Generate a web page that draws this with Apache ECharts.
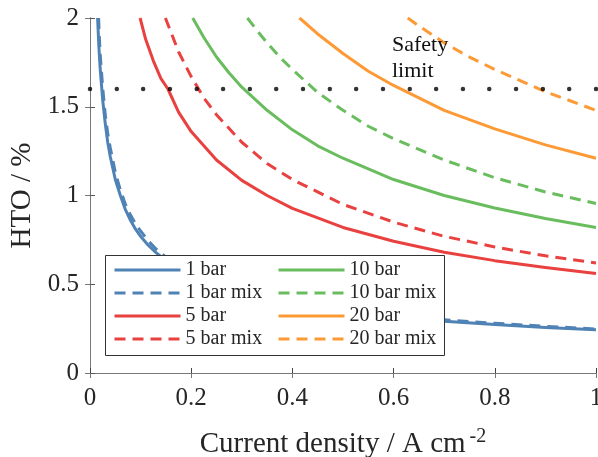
<!DOCTYPE html>
<html lang="en">
<head>
  <meta charset="UTF-8">
  <title>HTO vs current density</title>
</head>
<body style="margin:0">
  <div id="main" style="width: 598px;height:457px;"></div>
  <script src="https://cdn.jsdelivr.net/npm/echarts@6/dist/echarts.min.js"></script>
  <script type="text/javascript">
    // values
    const bar1X = [0.015, 0.0175, 0.02, 0.025, 0.03, 0.035, 0.04, 0.05, 0.06, 0.07, 0.08, 0.09, 0.10, 0.115, 0.13, 0.16, 0.20, 0.25, 0.30, 0.40, 0.50, 0.60, 0.70, 0.80, 0.90, 1.00];
    const bar1Y = [2.00, 1.84, 1.72, 1.54, 1.41, 1.30, 1.22, 1.09, 1.00, 0.92, 0.86, 0.81, 0.77, 0.72, 0.68, 0.61, 0.545, 0.488, 0.445, 0.386, 0.345, 0.315, 0.292, 0.273, 0.257, 0.244];
    const bar1MixX = [0.017, 0.0185, 0.02, 0.025, 0.03, 0.035, 0.04, 0.05, 0.06, 0.07, 0.08, 0.09, 0.10, 0.115, 0.13, 0.16, 0.20, 0.25, 0.30, 0.40, 0.50, 0.60, 0.70, 0.80, 0.90, 1.00];
    const bar1MixY = [2.00, 1.89, 1.80, 1.61, 1.46, 1.35, 1.27, 1.13, 1.03, 0.95, 0.89, 0.84, 0.80, 0.745, 0.70, 0.63, 0.565, 0.505, 0.46, 0.398, 0.356, 0.325, 0.300, 0.280, 0.263, 0.248];

    const bar5X = [0.099, 0.11, 0.125, 0.14, 0.154, 0.175, 0.2, 0.225, 0.25, 0.3, 0.35, 0.4, 0.5, 0.6, 0.7, 0.8, 0.9, 1.0];
    const bar5Y = [2.0, 1.88, 1.76, 1.66, 1.6, 1.47, 1.36, 1.28, 1.2, 1.085, 1.0, 0.927, 0.82, 0.742, 0.68, 0.633, 0.594, 0.56];
    const bar5MixX = [0.149, 0.16, 0.175, 0.2, 0.225, 0.25, 0.3, 0.35, 0.4, 0.5, 0.6, 0.7, 0.8, 0.9, 1.0];
    const bar5MixY = [2.0, 1.92, 1.81, 1.67, 1.55, 1.455, 1.30, 1.18, 1.09, 0.95, 0.85, 0.77, 0.71, 0.66, 0.62];

    const bar10X = [0.203, 0.225, 0.25, 0.275, 0.3, 0.35, 0.4, 0.45, 0.5, 0.6, 0.7, 0.8, 0.9, 1.0];
    const bar10Y = [2.0, 1.89, 1.78, 1.69, 1.61, 1.48, 1.37, 1.28, 1.21, 1.09, 1.0, 0.93, 0.87, 0.82];
    const bar10MixX = [0.311, 0.33, 0.35, 0.375, 0.4, 0.45, 0.5, 0.55, 0.6, 0.7, 0.8, 0.9, 1.0];
    const bar10MixY = [2.0, 1.93, 1.86, 1.78, 1.71, 1.58, 1.48, 1.39, 1.32, 1.20, 1.10, 1.02, 0.955];

    const bar20X = [0.414, 0.45, 0.5, 0.55, 0.6, 0.7, 0.8, 0.9, 1.0];
    const bar20Y = [2.0, 1.91, 1.80, 1.70, 1.62, 1.48, 1.375, 1.285, 1.21];
    const bar20MixX = [0.628, 0.65, 0.7, 0.75, 0.8, 0.9, 1.0];
    const bar20MixY = [2.0, 1.955, 1.86, 1.78, 1.71, 1.585, 1.48];

    const safetyLimit = 1.6;
    const safetyX = [0, 0.053, 0.105, 0.158, 0.211, 0.263, 0.316, 0.368, 0.421, 0.474,
      0.526, 0.579, 0.632, 0.684, 0.737, 0.789, 0.842, 0.895, 0.947, 1.0];

    const names = ['1 bar', '1 bar mix', '5 bar', '5 bar mix', '10 bar', '10 bar mix', '20 bar', '20 bar mix'];

    const FONT = 'Liberation Serif';
    const TXT = '#262626';
    const dash = [11, 7];

    function zip(xs, ys) {
      return xs.map((x, i) => [x, ys[i]]);
    }

    function curve(name, xs, ys, color, dashed) {
      return {
        name: name,
        type: 'line',
        data: zip(xs, ys),
        showSymbol: false,
        symbol: 'none',
        smooth: false,
        color: color,
        lineStyle: { width: 3, color: color, type: dashed ? dash : 'solid', join: 'round' },
        itemStyle: { color: color },
        animation: false,
        z: 2
      };
    }

    var myChart = echarts.init(document.getElementById('main'));

    var legendCommon = {
      orient: 'vertical',
      top: 260,
      padding: 0,
      itemGap: 3,
      itemWidth: 66,
      itemHeight: 14,
      itemStyle: { opacity: 0 },
      lineStyle: { width: 3 },
      textStyle: { fontFamily: FONT, fontSize: 20, color: TXT, lineHeight: 20 },
      selectedMode: false,
      z: 60
    };

    var option = {
      backgroundColor: '#fff',
      grid: { left: 90, right: 2, top: 18, bottom: 84, outerBoundsMode: 'none', containLabel: false },
      legend: [
        Object.assign({ left: 113, data: names.slice(0, 4) }, legendCommon),
        Object.assign({ left: 277, data: names.slice(4) }, legendCommon)
      ],
      xAxis: [{
        type: 'value',
        min: 0, max: 1, interval: 0.2,
        name: '{a|Current density / A cm}{b|-2}',
        nameLocation: 'middle',
        nameGap: 54,
        nameTextStyle: {
          rich: {
            a: { fontFamily: FONT, fontSize: 29, color: TXT },
            b: { fontFamily: FONT, fontSize: 20, color: TXT, padding: [0, 0, 14, 4] }
          }
        },
        axisLine: { show: true, lineStyle: { color: '#444', width: 1 } },
        axisTick: { inside: true, length: 5, lineStyle: { color: '#444' } },
        axisLabel: { fontFamily: FONT, fontSize: 25, color: TXT, margin: 13 },
        splitLine: { show: false }
      }, {
        type: 'value', position: 'top',
        min: 0, max: 1, interval: 0.2,
        axisLine: { show: true, lineStyle: { color: '#777', width: 1 } },
        axisTick: { inside: true, length: 5, lineStyle: { color: '#777' } },
        axisLabel: { show: false },
        splitLine: { show: false }
      }],
      yAxis: [{
        type: 'value',
        min: 0, max: 2, interval: 0.5,
        name: 'HTO / %',
        nameLocation: 'middle',
        nameGap: 45,
        nameTextStyle: { fontFamily: FONT, fontSize: 29, color: TXT },
        axisLine: { show: true, lineStyle: { color: '#555', width: 1 } },
        axisTick: { inside: true, length: 5, lineStyle: { color: '#555' } },
        axisLabel: { fontFamily: FONT, fontSize: 25, color: TXT, margin: 11 },
        splitLine: { show: false }
      }, {
        type: 'value', position: 'right',
        min: 0, max: 2, interval: 0.5,
        axisLine: { show: true, lineStyle: { color: '#777', width: 1 } },
        axisTick: { inside: true, length: 5, lineStyle: { color: '#777' } },
        axisLabel: { show: false },
        splitLine: { show: false }
      }],
      graphic: {
        z: 50,
        elements: [{
          type: 'rect',
          z: 50,
          shape: { x: 105.5, y: 255.5, width: 339, height: 100 },
          style: { fill: '#fff', stroke: '#333', lineWidth: 1 }
        }, {
          type: 'text',
          z: 50,
          left: 392,
          top: 32,
          style: {
            text: 'Safety\nlimit',
            font: '22px "Liberation Serif"',
            lineHeight: 26,
            fill: '#111'
          }
        }]
      },
      series: [
        curve(names[0], bar1X, bar1Y, '#4f82b5', false),
        curve(names[1], bar1MixX, bar1MixY, '#4f82b5', true),
        curve(names[2], bar5X, bar5Y, '#e8413f', false),
        curve(names[3], bar5MixX, bar5MixY, '#e8413f', true),
        curve(names[4], bar10X, bar10Y, '#6abd5e', false),
        curve(names[5], bar10MixX, bar10MixY, '#6abd5e', true),
        curve(names[6], bar20X, bar20Y, '#fd9a35', false),
        curve(names[7], bar20MixX, bar20MixY, '#fd9a35', true),
        {
          name: 'Safety limit',
          type: 'scatter',
          data: safetyX.map(x => [x, safetyLimit]),
          symbol: 'circle',
          symbolSize: 4.5,
          itemStyle: { color: '#000' },
          clip: false,
          silent: true,
          animation: false,
          z: 5
        }
      ]
    };

    myChart.setOption(option);
  </script>
</body>
</html>
